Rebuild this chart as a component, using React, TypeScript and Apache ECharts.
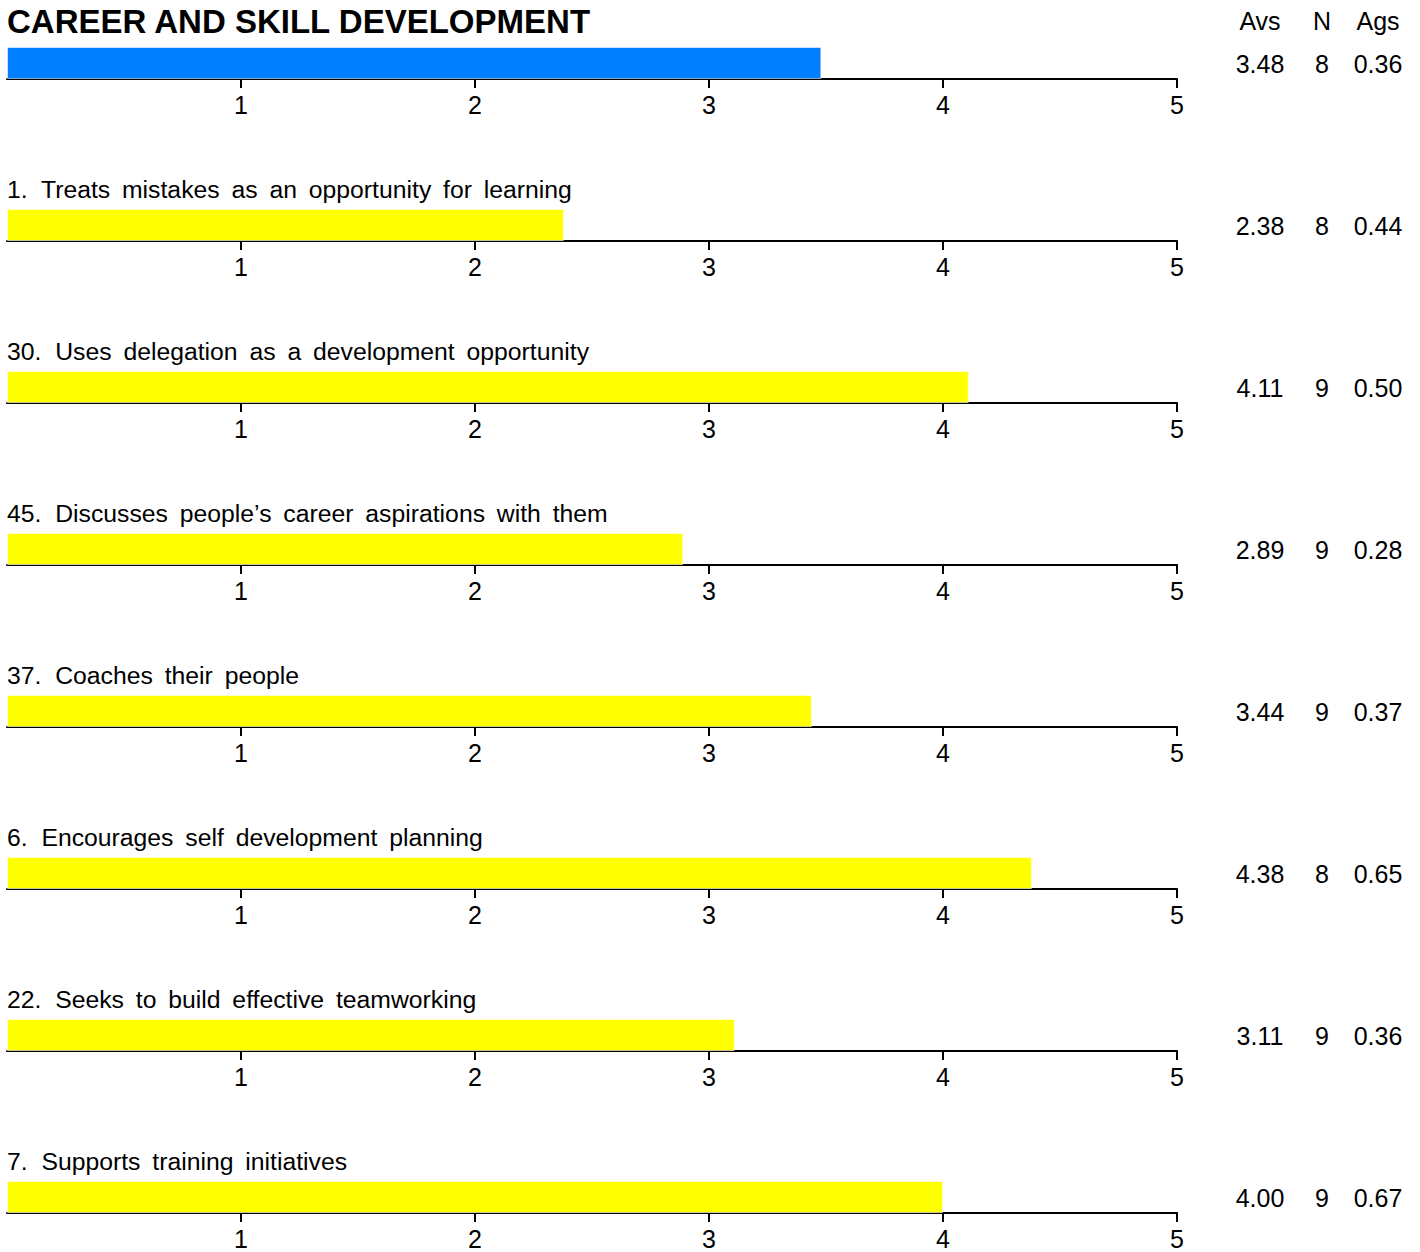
import React, { useEffect, useRef } from "react";
import * as echarts from "echarts";

const title = "CAREER AND SKILL DEVELOPMENT";
const itemNumbers = ["", "1.", "30.", "45.", "37.", "6.", "22.", "7."];
const itemTexts = [
  "",
  "Treats mistakes as an opportunity for learning",
  "Uses delegation as a development opportunity",
  "Discusses people\u2019s career aspirations with them",
  "Coaches their people",
  "Encourages self development planning",
  "Seeks to build effective teamworking",
  "Supports training initiatives",
];
const avs = [3.48, 2.38, 4.11, 2.89, 3.44, 4.38, 3.11, 4.0];
const nCounts = [8, 8, 9, 9, 9, 8, 9, 9];
const ags = [0.36, 0.44, 0.5, 0.28, 0.37, 0.65, 0.36, 0.67];
const barColors = ["#0080FF", "#FFFF00", "#FFFF00", "#FFFF00", "#FFFF00", "#FFFF00", "#FFFF00", "#FFFF00"];
const columnHeaders = ["Avs", "N", "Ags"];
const tickValues = [1, 2, 3, 4, 5];

const FONT = "'Liberation Sans', Arial, sans-serif";
const LEFT = 7;
const WIDTH = 1170;
const TOP0 = 47;
const STEP = 162;
const BAR_H = 32;
const COL_X = [1260, 1322, 1378];

// widen word gaps like the reference
const spaced = (s: string) => s.replace(/ /g, " \u2009");

export default function App() {
  const ref = useRef<HTMLDivElement>(null);
  useEffect(() => {
    document.body.style.margin = "0";
    const chart = echarts.init(ref.current!, null, { renderer: "svg" });
    const grids: any[] = [];
    const xAxes: any[] = [];
    const yAxes: any[] = [];
    const series: any[] = [];
    const graphics: any[] = [];

    avs.forEach((v, i) => {
      const top = TOP0 + STEP * i;
      grids.push({ left: LEFT, width: WIDTH, top, height: BAR_H, containLabel: false });
      xAxes.push({
        type: "value",
        gridIndex: i,
        min: 0,
        max: 5,
        interval: 1,
        splitLine: { show: false },
        axisLine: { show: true, lineStyle: { color: "#000", width: 2 } },
        axisTick: { show: true, length: 9, customValues: tickValues, lineStyle: { color: "#000", width: 2 } },
        axisLabel: {
          show: true,
          customValues: tickValues,
          color: "#000",
          fontSize: 25,
          fontFamily: FONT,
          margin: 13,
        },
      });
      yAxes.push({
        type: "category",
        gridIndex: i,
        data: [itemTexts[i] || title],
        show: false,
      });
      series.push({
        type: "bar",
        xAxisIndex: i,
        yAxisIndex: i,
        data: [v],
        barWidth: BAR_H,
        itemStyle: { color: barColors[i], borderColor: "rgba(255,255,255,0.55)", borderWidth: 1 },
        silent: true,
      });

      if (i === 0) {
        graphics.push({
          type: "text",
          x: LEFT,
          y: 21,
          style: { text: title, font: `bold 33px ${FONT}`, fill: "#000", verticalAlign: "middle" },
        });
      } else {
        graphics.push({
          type: "text",
          x: LEFT,
          y: top - 20,
          style: {
            text: itemNumbers[i] + "  " + spaced(itemTexts[i]),
            font: `24.75px ${FONT}`,
            fill: "#000",
            verticalAlign: "middle",
          },
        });
      }
      const vals = [v.toFixed(2), String(nCounts[i]), ags[i].toFixed(2)];
      vals.forEach((t, c) => {
        graphics.push({
          type: "text",
          x: COL_X[c],
          y: top + 17,
          style: { text: t, font: `25px ${FONT}`, fill: "#000", align: "center", verticalAlign: "middle" },
        });
      });
    });

    columnHeaders.forEach((h, c) => {
      graphics.push({
        type: "text",
        x: COL_X[c],
        y: 21,
        style: { text: h, font: `25px ${FONT}`, fill: "#000", align: "center", verticalAlign: "middle" },
      });
    });

    chart.setOption({
      animation: false,
      backgroundColor: "#fff",
      grid: grids,
      xAxis: xAxes,
      yAxis: yAxes,
      series,
      graphic: graphics,
    });
    return () => chart.dispose();
  }, []);
  return <div ref={ref} style={{ width: 1420, height: 1252 }} />;
}
